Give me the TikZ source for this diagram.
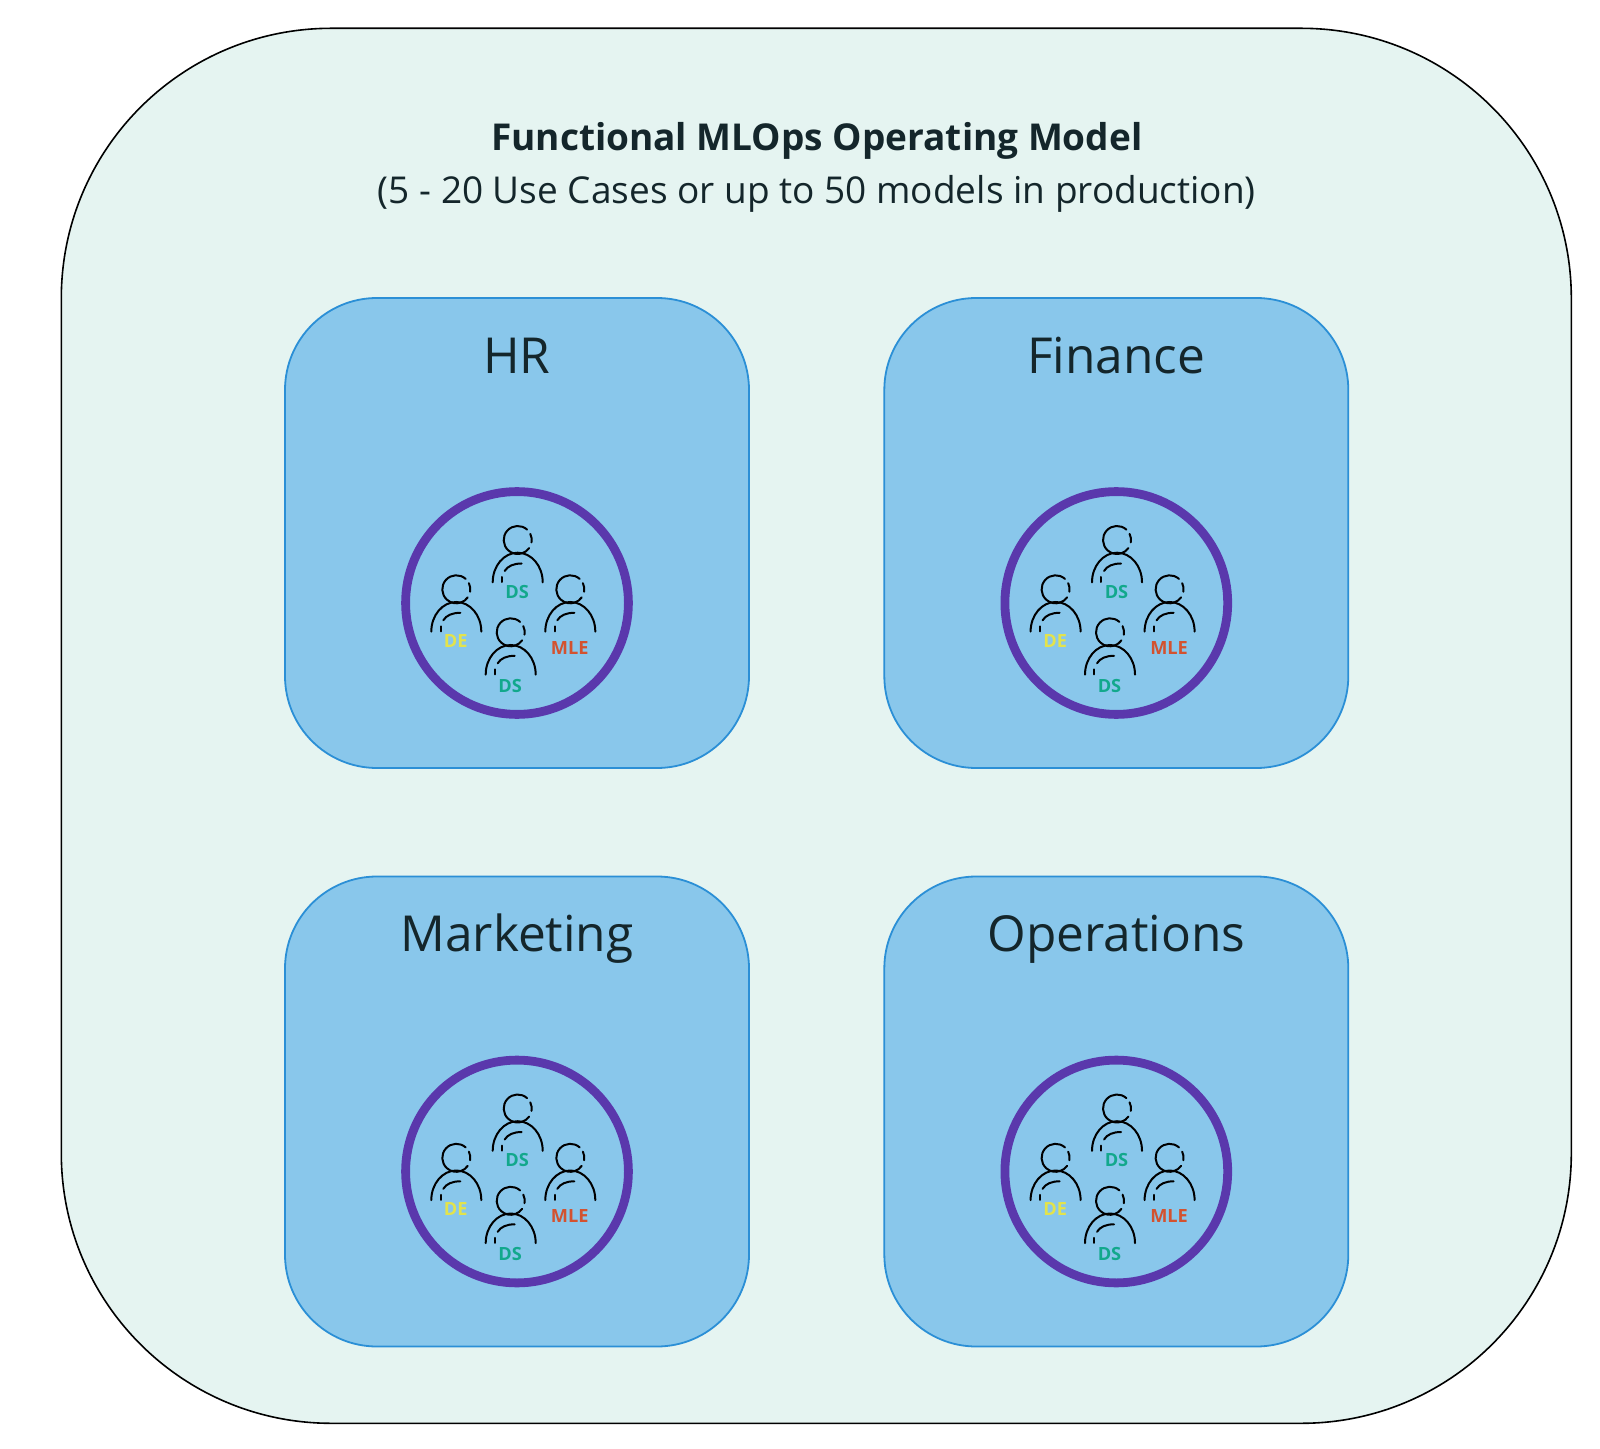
\documentclass[tikz,border=0pt]{standalone}
\usepackage{fontspec}
\setmainfont{Open Sans}
\definecolor{modelfill}{HTML}{E5F4F1}
\definecolor{boxfill}{HTML}{89C7EB}
\definecolor{boxline}{HTML}{2B8FD6}
\definecolor{teamline}{HTML}{5A38AC}
\definecolor{inktext}{HTML}{14262B}
\definecolor{dscol}{HTML}{12A88C}
\definecolor{decol}{HTML}{E3E34C}
\definecolor{mlecol}{HTML}{D3522F}
\tikzset{
	modelbox/.style={draw=black,line width=0.8pt,fill=modelfill,rounded corners=135pt,minimum width=755pt,minimum height=697.5pt,inner sep=0pt},
	areabox/.style={draw=boxline,line width=0.9pt,fill=boxfill,rounded corners=46pt,minimum width=232pt,minimum height=235pt,inner sep=0pt},
	teamring/.style={circle,draw=teamline,line width=4.4pt,minimum size=111.4pt,inner sep=0pt},
	headline/.style={font=\fontsize{18.5}{21}\selectfont,text=inktext,anchor=base,inner sep=0pt},
	areatitle/.style={font=\fontsize{24.8}{28}\selectfont,text=inktext,anchor=base,inner sep=0pt},
	rolelabel/.style={font=\fontsize{9.1}{10}\selectfont\bfseries,inner sep=0pt},
	figure/.style={line width=1pt,line cap=round,black}
}
% head at (#2,#3), label #4 below it
\newcommand{\member}[6]{
	\begin{scope}[shift={(#2,#3)}]
	\draw[figure] (14*cos 48,14*sin 48) arc (48:325:14);
	\draw[figure] (14*cos 26,14*sin 26) arc (26:-10:14);
	\draw[figure] (-25,-42.3) arc (180:0:25 and 29.6);
	\draw[figure] (-13,-31) .. controls (-10,-26) and (-4,-23.5) .. (4,-23.5);
	\draw[figure] (-15.7,-37) -- (-15.7,-42);
	\node[rolelabel,text=#5] (#1) at (-0.5,-#6) {#4};
	\end{scope}
}
\newcommand{\area}[6]{
	\node[areabox] (#1box) at (#2,#3) {};
	\node[areatitle] (#1title) at (#2,#4) {#6};
	\node[teamring] (#1team) at (#2,#5) {};
	\member{#1ds}{#2+0.7}{#5+63}{DS}{dscol}{51.5}
	\member{#1de}{#2-60.7}{#5+13.7}{DE}{decol}{51.5}
	\member{#1mle}{#2+53.3}{#5+13.7}{MLE}{mlecol}{58.3}
	\member{#1dsb}{#2-6.3}{#5-29.3}{DS}{dscol}{53.5}
}

\begin{document}
\begin{tikzpicture}[x=0.5pt,y=0.5pt]
	\useasboundingbox (0,0) rectangle (1600,1448);
	\node[modelbox] (model) at (816.3,722.2) {};
	\node[headline] (modelname) at (816.8,1297) {\bfseries Functional MLOps Operating Model};
	\node[headline] (modelscope) at (816.8,1244) {(5 - 20 Use Cases or up to 50 models in production)};
	\area{hr}{517}{915}{1074.5}{845}{HR}
	\area{finance}{1116.3}{915}{1074.5}{845}{Finance}
	\area{marketing}{517}{336.5}{496.2}{276.5}{Marketing}
	\area{operations}{1116.3}{336.5}{496.2}{276.5}{Operations}
\end{tikzpicture}
\end{document}
